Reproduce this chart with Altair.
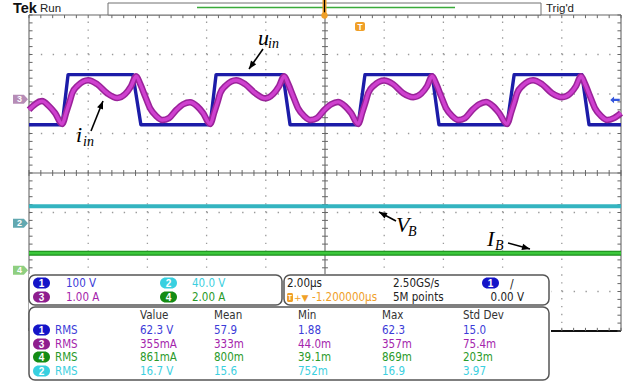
import math
import altair as alt
import pandas as pd

# CH1  u_in (V)  - square wave breakpoints, time in µs (0 = trigger)
ch1_t = [-11.2, -10.08, -9.88, -7.69, -7.42, -5.08, -4.88, -2.62, -2.38,
         -0.08, 0.15, 2.42, 2.65, 4.95, 5.19, 7.48, 7.72, 8.8]
ch1_v = [-63, -63, 64, 64, -63, -63, 64, 64, -63,
         -63, 64, 64, -63, -63, 64, 64, -63, -63]

# CH3  i_in (A)
ch3_t = [-11.20, -10.76, -10.52, -10.32,
         -10.08, -9.94, -9.84, -9.74, -9.54, -9.20, -8.90, -8.56, -8.22, -7.95, -7.75, -7.58,
         -7.44, -7.28, -7.11, -6.90, -6.70, -6.47, -6.23, -5.99, -5.76, -5.52, -5.32,
         -5.08, -4.94, -4.84, -4.74, -4.54, -4.20, -3.90, -3.56, -3.22, -2.95, -2.75, -2.58,
         -2.44, -2.28, -2.11, -1.90, -1.70, -1.47, -1.23, -0.99, -0.76, -0.52, -0.32,
         -0.08, 0.06, 0.16, 0.26, 0.46, 0.80, 1.10, 1.44, 1.78, 2.05, 2.25, 2.42,
         2.56, 2.72, 2.89, 3.10, 3.30, 3.53, 3.77, 4.01, 4.24, 4.48, 4.68,
         4.95, 5.09, 5.19, 5.29, 5.49, 5.83, 6.13, 6.47, 6.81, 7.08, 7.28, 7.45,
         7.59, 7.75, 7.92, 8.13, 8.33, 8.56, 8.80]
ch3_a = [-0.27, -0.05, -0.18, -0.35,
         -0.63, -0.33, -0.10, 0.15, 0.35, 0.48, 0.38, 0.15, 0.03, 0.13, 0.33, 0.58,
         0.38, 0.08, -0.23, -0.43, -0.53, -0.48, -0.28, -0.13, -0.08, -0.18, -0.35,
         -0.63, -0.33, -0.10, 0.15, 0.35, 0.48, 0.38, 0.15, 0.02, 0.13, 0.33, 0.58,
         0.38, 0.08, -0.23, -0.43, -0.53, -0.48, -0.28, -0.13, -0.07, -0.18, -0.35,
         -0.63, -0.33, -0.10, 0.15, 0.35, 0.47, 0.38, 0.15, 0.05, 0.14, 0.33, 0.58,
         0.38, 0.08, -0.23, -0.43, -0.53, -0.48, -0.28, -0.13, -0.07, -0.18, -0.35,
         -0.63, -0.33, -0.10, 0.15, 0.35, 0.48, 0.38, 0.15, 0.05, 0.14, 0.33, 0.58,
         0.38, 0.08, -0.23, -0.43, -0.53, -0.48, -0.35]

# CH2  V_B (V)  and  CH4  I_B (A)
ch2_t = [-11.2, 8.8]
ch2_v = [17.2, 17.2]
ch4_t = [-11.2, 8.8]
ch4_a = [0.86, 0.86]

# vertical settings (units / div) and ground level (div from centre)
ch_scale = {"1": 100.0, "2": 40.0, "3": 1.0, "4": 2.0}
ch_offset = {"1": 1.85, "2": -1.27, "3": 1.87, "4": -2.46}
ch_label = {"1": "100 V", "3": "1.00 A", "2": "40.0 V", "4": "2.00 A"}

# measurement table
meas_ch = ["1", "3", "4", "2"]
meas_type = ["RMS", "RMS", "RMS", "RMS"]
meas_value = ["62.3 V", "355mA", "861mA", "16.7 V"]
meas_mean = ["57.9", "333m", "800m", "15.6"]
meas_min = ["1.88", "44.0m", "39.1m", "752m"]
meas_max = ["62.3", "357m", "869m", "16.9"]
meas_std = ["15.0", "75.4m", "203m", "3.97"]
meas_head = ["Value", "Mean", "Min", "Max", "Std Dev"]

timebase = "2.00µs"
sample_rate = "2.50GS/s"
h_delay = "-1.200000µs"
rec_len = "5M points"
trig_level = "0.00 V"

# ---------------- styling ----------------
FONT = "Liberation Sans Narrow, DejaVu Sans Condensed, Liberation Sans"
SERIF = "Liberation Serif"
COL = {"1": "#1c1ca8", "2": "#34b4c0", "3": "#9a239a", "4": "#1a8a1a"}
TXT = {"1": "#3c3cd8", "2": "#3ccfe0", "3": "#a424ac", "4": "#2a9a2a"}
BADGE = {"1": "#1414c8", "2": "#38d0e0", "3": "#8e1e8e", "4": "#148c14"}
ORANGE = "#f0a028"

XT = alt.Scale(domain=[-11.2, 8.8], range=[29, 621])
XD = alt.Scale(domain=[0, 10], range=[29, 621])
YD = alt.Scale(domain=[-4, 4], range=[331, 15])


def trace(t, vals, ch, color, width, interp="monotone"):
    df = pd.DataFrame({"t": t, "val": vals})
    return alt.Chart(df).transform_calculate(
        div=f"{ch_offset[ch]} + datum.val / {ch_scale[ch]}"
    ).mark_line(color=color, strokeWidth=width, interpolate=interp,
                strokeJoin="round").encode(
        x=alt.X("t:Q", scale=XT, axis=None),
        y=alt.Y("div:Q", scale=YD, axis=None),
    )


def px_text(rows, size=11.5, weight="normal", align="left", font=FONT,
            style="normal", baseline="middle"):
    df = pd.DataFrame(rows, columns=["x", "y", "text", "color"])
    return alt.Chart(df).mark_text(
        font=font, fontSize=size, fontWeight=weight, align=align,
        fontStyle=style, baseline=baseline
    ).encode(
        x=alt.X("x:Q", scale=None), y=alt.Y("y:Q", scale=None),
        text="text:N", color=alt.Color("color:N", scale=None),
    )


def px_rect(rows, **kw):
    df = pd.DataFrame(rows, columns=["x", "x2", "y", "y2"])
    return alt.Chart(df).mark_rect(**kw).encode(
        x=alt.X("x:Q", scale=None), x2="x2:Q",
        y=alt.Y("y:Q", scale=None), y2="y2:Q",
    )


def px_rule(rows, **kw):
    df = pd.DataFrame(rows, columns=["x", "x2", "y", "y2"])
    return alt.Chart(df).mark_rule(**kw).encode(
        x=alt.X("x:Q", scale=None), x2="x2:Q",
        y=alt.Y("y:Q", scale=None), y2="y2:Q",
    )


layers = []

# ---------------- graticule ----------------
grid_h = pd.DataFrame({"y": [-3, -2, -1, 1, 2, 3], "x0": 0, "x1": 10})
grid_v = pd.DataFrame({"x": [1, 2, 3, 4, 6, 7, 8, 9], "y0": -4, "y1": 4})
layers.append(alt.Chart(grid_h).mark_rule(color="#9a9a9a", strokeWidth=1.3,
                                          strokeDash=[1.4, 10.44]).encode(
    x=alt.X("x0:Q", scale=XD, axis=None), x2="x1:Q",
    y=alt.Y("y:Q", scale=YD, axis=None)))
layers.append(alt.Chart(grid_v).mark_rule(color="#9a9a9a", strokeWidth=1.3,
                                          strokeDash=[1.4, 6.5]).encode(
    x=alt.X("x:Q", scale=XD, axis=None),
    y=alt.Y("y0:Q", scale=YD, axis=None), y2="y1:Q"))

solid = pd.DataFrame({"x": [5, 0, 0, 10, 0], "x2": [5, 10, 0, 10, 10],
                      "y": [-4, 0, -4, -4, 4], "y2": [4, 0, 4, 4, 4]})
layers.append(alt.Chart(solid).mark_rule(color="#666666", strokeWidth=1.1).encode(
    x=alt.X("x:Q", scale=XD, axis=None), x2="x2:Q",
    y=alt.Y("y:Q", scale=YD, axis=None), y2="y2:Q"))
layers.append(alt.Chart(pd.DataFrame({"x": [0], "x2": [10], "y": [-4]})).mark_rule(
    color="#111111", strokeWidth=2).encode(
    x=alt.X("x:Q", scale=XD, axis=None), x2="x2:Q",
    y=alt.Y("y:Q", scale=YD, axis=None)))

minor_x = [round(i * 0.2, 1) for i in range(51)]
minor_y = [round(-4 + i * 0.2, 1) for i in range(41)]
vt = []
for xx in minor_x:
    vt += [(xx, -0.075, 0.075), (xx, 4, 3.92), (xx, -4, -3.92)]
ht = []
for yy in minor_y:
    ht += [(4.95, 5.05, yy), (0, 0.06, yy), (10, 9.94, yy)]
layers.append(alt.Chart(pd.DataFrame(vt, columns=["x", "y", "y2"])).mark_rule(
    color="#666666", strokeWidth=1).encode(
    x=alt.X("x:Q", scale=XD, axis=None),
    y=alt.Y("y:Q", scale=YD, axis=None), y2="y2:Q"))
layers.append(alt.Chart(pd.DataFrame(ht, columns=["x", "x2", "y"])).mark_rule(
    color="#666666", strokeWidth=1).encode(
    x=alt.X("x:Q", scale=XD, axis=None), x2="x2:Q",
    y=alt.Y("y:Q", scale=YD, axis=None)))

# ---------------- traces ----------------
layers.append(trace(ch2_t, ch2_v, "2", COL["2"], 4))
layers.append(trace(ch4_t, ch4_a, "4", COL["4"], 5))
layers.append(trace(ch4_t, ch4_a, "4", "#3cc83c", 2.8))
layers.append(trace(ch1_t, ch1_v, "1", COL["1"], 3.4, interp="linear"))
layers.append(trace(ch3_t, ch3_a, "3", COL["3"], 6.5))
layers.append(trace(ch3_t, ch3_a, "3", "#cf40cf", 3.4))

# ---------------- channel ground markers (left) ----------------
markers = pd.DataFrame({"ch": ["3", "2", "4"],
                        "div": [ch_offset["3"], ch_offset["2"], ch_offset["4"]],
                        "fill": ["#b68cb6", "#62a8b0", "#8fcf80"]})
PENT = "M -1 -0.6 L 0.45 -0.6 L 1 0 L 0.45 0.6 L -1 0.6 Z"
layers.append(alt.Chart(markers).mark_point(shape=PENT, size=225, filled=True,
                                            opacity=1).encode(
    x=alt.value(20.5), y=alt.Y("div:Q", scale=YD, axis=None),
    color=alt.Color("fill:N", scale=None)))
layers.append(alt.Chart(markers).mark_text(font="Liberation Sans", fontSize=9,
                                           fontWeight="bold", color="white").encode(
    x=alt.value(19.5), y=alt.Y("div:Q", scale=YD, axis=None), text="ch:N"))

# trigger level arrow (right)
ARROW_L = "M -1 0 L -0.2 -0.7 L -0.2 -0.25 L 1 -0.25 L 1 0.25 L -0.2 0.25 L -0.2 0.7 Z"
layers.append(alt.Chart(pd.DataFrame({"div": [ch_offset["1"]]})).mark_point(
    shape=ARROW_L, size=90, filled=True, opacity=1, color="#3355dd").encode(
    x=alt.value(615), y=alt.Y("div:Q", scale=YD, axis=None)))

# ---------------- annotations ----------------
arrows = [(263, 49, 249, 69), (91, 131, 103, 101), (396, 221, 379, 212), (508, 243, 530, 249)]
layers.append(px_rule([(a[0], a[2], a[1], a[3]) for a in arrows], color="black", strokeWidth=1.6))
heads = pd.DataFrame({"x": [a[2] for a in arrows], "y": [a[3] for a in arrows],
                      "ang": [math.degrees(math.atan2(a[2] - a[0], -(a[3] - a[1]))) % 360 for a in arrows]})
layers.append(alt.Chart(heads).mark_point(shape="M 0 0 L 0.4 1 L -0.4 1 Z", size=256,
                                          filled=True, opacity=1, color="black").encode(
    x=alt.X("x:Q", scale=None), y=alt.Y("y:Q", scale=None),
    angle=alt.Angle("ang:Q", scale=None)))
layers.append(px_text([(258, 45, "u", "black"), (76, 142, "i", "black"),
                       (396, 232, "V", "black"), (487, 246, "I", "black")],
                      size=22, font=SERIF, style="italic", baseline="alphabetic"))
layers.append(px_text([(268, 48, "in", "black"), (83, 146, "in", "black"),
                       (408, 236, "B", "black"), (495, 250, "B", "black")],
                      size=14, font=SERIF, style="italic", baseline="alphabetic"))

# ---------------- header ----------------
layers.append(px_rect([(108, 541, 3, 15)], fill="white", stroke="#707070", strokeWidth=1))
layers.append(px_rule([(197, 455, 7.5, 7.5)], color="#3aaa3a", strokeWidth=1.3))
layers.append(px_rule([(324.5, 324.5, 0, 15)], color=ORANGE, strokeWidth=4))
layers.append(px_rule([(324.5, 324.5, 0, 15)], color="black", strokeWidth=1.2))
layers.append(alt.Chart(pd.DataFrame({"x": [324.5], "y": [15.5]})).mark_point(
    filled=True, opacity=1, size=40, color=ORANGE).encode(
    x=alt.X("x:Q", scale=None), y=alt.Y("y:Q", scale=None)))
layers.append(px_text([(13, 9, "Tek", "#111111")], size=14.5, weight="bold", font="Liberation Sans"))
layers.append(px_text([(40, 9, "Run", "#222222"), (546, 9, "Trig'd", "#222222")], size=11.5,
                      font="Liberation Sans"))
layers.append(px_rect([(355, 365, 22, 31)], fill=ORANGE, cornerRadius=2))
layers.append(px_text([(360, 26.5, "T", "white")], size=8.5, weight="bold", align="center",
                      font="Liberation Sans"))

# ---------------- bottom panels ----------------
layers.append(px_rect([(29, 551, 274, 385)], fill="white"))
layers.append(px_rect([(29, 282, 275, 305), (284, 549, 275, 305), (29, 549, 307, 380)],
                      fill="white", stroke="#555555", strokeWidth=1.5, cornerRadius=6))

badges = [(33, 283, "1"), (33, 297, "3"), (160, 283, "2"), (160, 297, "4"), (482, 283, "1")]
row_y = [330, 344, 357, 371]
for ch, yy in zip(meas_ch, row_y):
    badges.append((33, yy, ch))
layers.append(alt.Chart(pd.DataFrame(
    {"x": [b[0] for b in badges], "x2": [b[0] + 17 for b in badges],
     "y": [b[1] - 5.5 for b in badges], "y2": [b[1] + 5.5 for b in badges],
     "c": [BADGE[b[2]] for b in badges]})).mark_rect(cornerRadius=5.5).encode(
    x=alt.X("x:Q", scale=None), x2="x2:Q", y=alt.Y("y:Q", scale=None), y2="y2:Q",
    color=alt.Color("c:N", scale=None)))
layers.append(px_text([(b[0] + 8.5, b[1] + 0.5, b[2], "white") for b in badges], size=10,
                      weight="bold", align="center", font="Liberation Sans"))

# channel scale panel
layers.append(px_text([(66, 283.5, ch_label["1"], TXT["1"]), (66, 297.5, ch_label["3"], TXT["3"]),
                       (192, 283.5, ch_label["2"], TXT["2"]), (192, 297.5, ch_label["4"], TXT["4"])]))
# timebase / trigger panel
layers.append(px_text([(287, 283.5, timebase, "#222222"), (393, 283.5, sample_rate, "#222222"),
                       (393, 297.5, rec_len, "#222222")]))
layers.append(px_text([(524, 297.5, trig_level, "#222222")], align="right"))
layers.append(px_text([(510, 283.5, "/", "#222222")], size=12))
layers.append(px_rect([(287, 293, 293, 302)], fill=ORANGE, cornerRadius=1.5))
layers.append(px_text([(290, 297.8, "T", "white")], size=7, weight="bold", align="center",
                      font="Liberation Sans"))
layers.append(px_text([(294, 297.5, "+▼", ORANGE)], size=9, font="DejaVu Sans"))
layers.append(px_text([(312, 297.5, h_delay, ORANGE)]))

# measurement panel
cols_x = [140, 214, 298, 382, 463]
layers.append(px_text([(x, 315.5, h, "#333333") for x, h in zip(cols_x, meas_head)]))
rows = []
for i, ch in enumerate(meas_ch):
    yy = row_y[i] + 0.5
    rows.append((55, yy, meas_type[i], TXT[ch]))
    for x, v in zip(cols_x, [meas_value[i], meas_mean[i], meas_min[i], meas_max[i], meas_std[i]]):
        rows.append((x, yy, v, TXT[ch]))
layers.append(px_text(rows))

chart = alt.layer(*layers).resolve_scale(
    x="independent", y="independent", color="independent"
).properties(
    width=633, height=385, padding=0,
    autosize=alt.AutoSizeParams(type="none"),
    background="white",
).configure_view(stroke=None)

chart.save("out.html", embed_options={"renderer": "svg", "actions": False})
